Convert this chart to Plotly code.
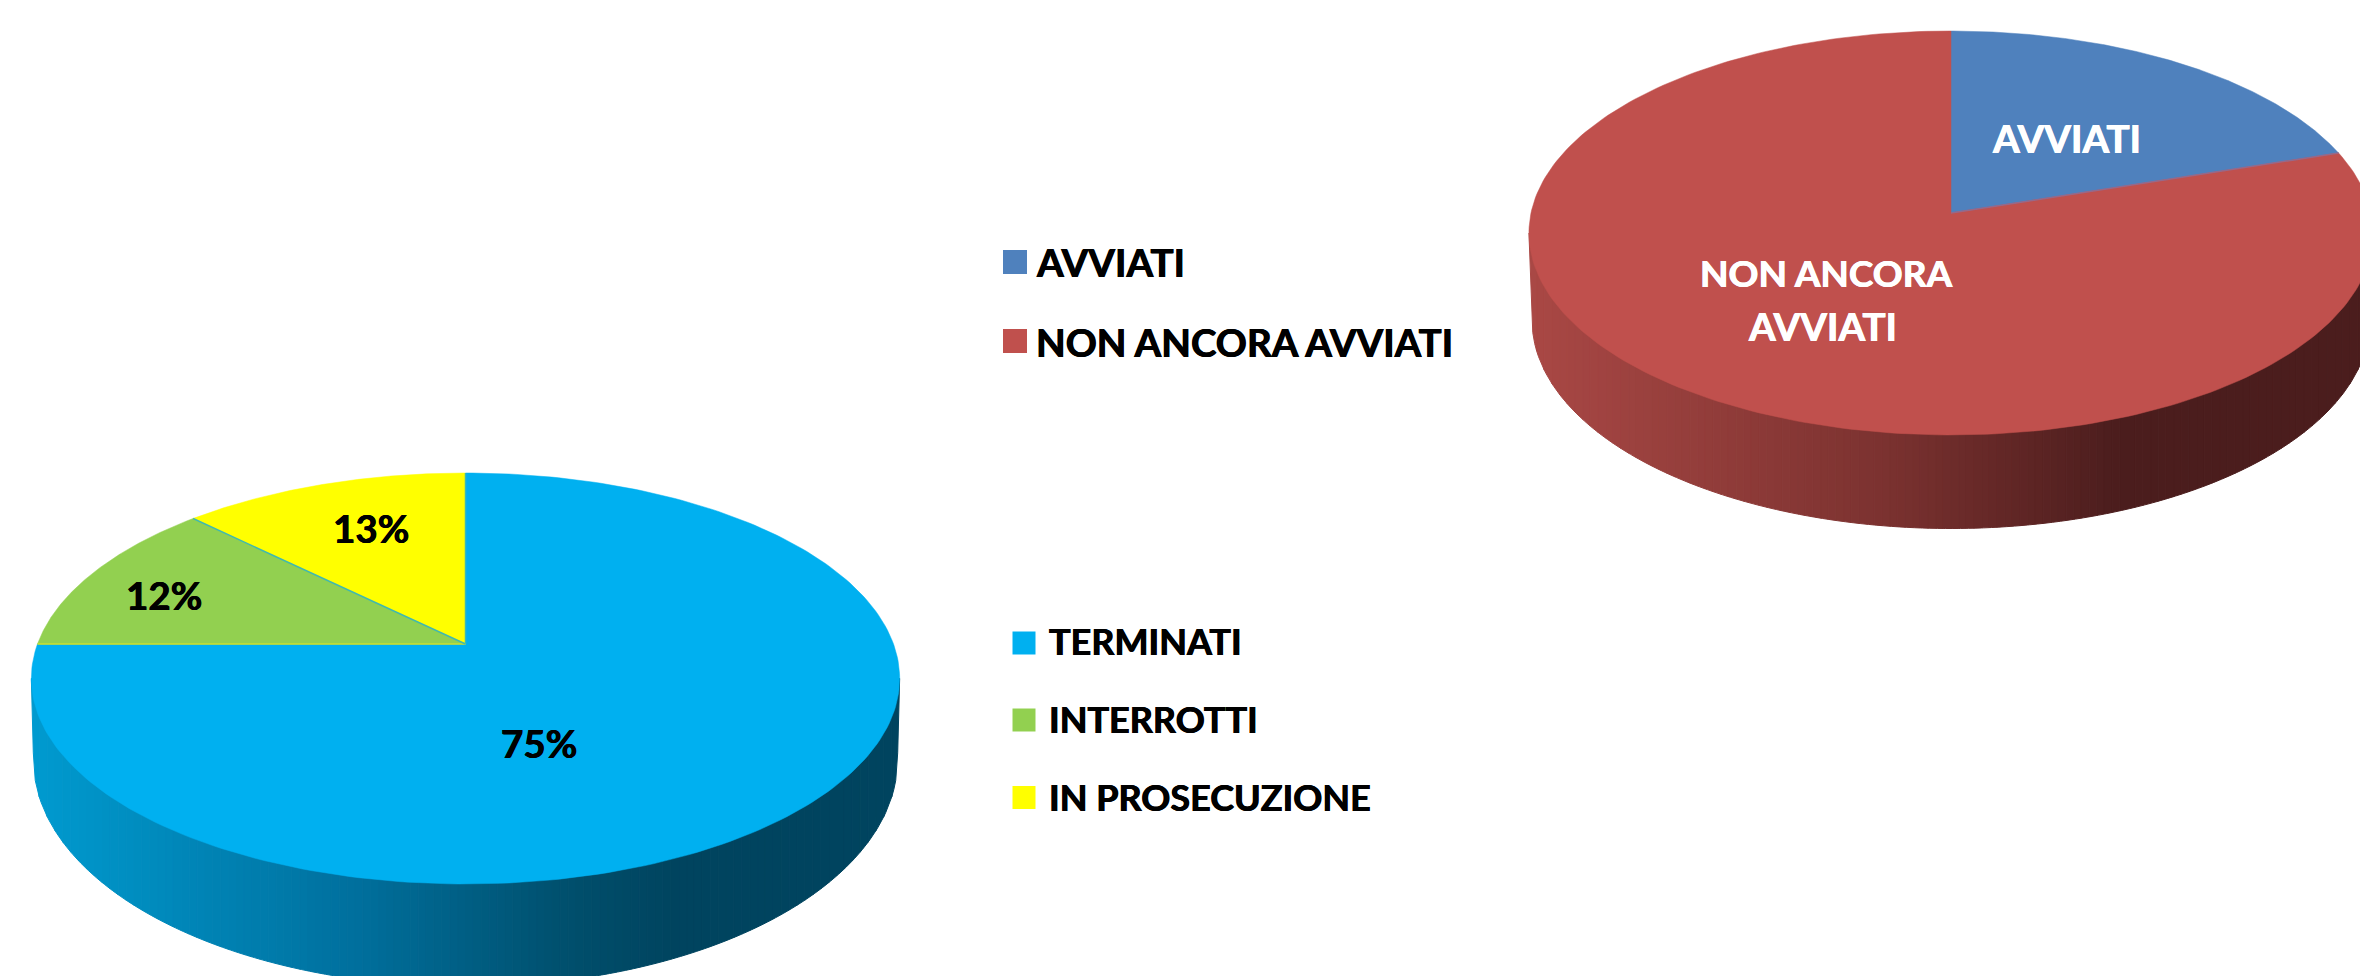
import numpy as np
import plotly.graph_objects as go

# --- data ---
status_labels = ["TERMINATI", "INTERROTTI", "IN PROSECUZIONE"]
status_values = [75, 12.4, 12.6]
status_colors = ["#00B0F0", "#92D050", "#FFFF00"]
status_text = ["75%", "12%", "13%"]

start_labels = ["AVVIATI", "NON ANCORA AVVIATI"]
start_values = [20, 80]
start_colors = ["#4F81BD", "#C0504D"]

W, H = 2360, 976
FONT = "Lato"
fig = go.Figure()


def project(phi, p):
    d = 1 - p["k"] * np.cos(phi)
    return (p["ax"] + p["A"] * np.sin(phi) / d,
            p["ay"] - p["B"] * np.cos(phi) / d)


def add_pie(values, colors, p, wall_stops, seam):
    # ellipse described by the projected rim
    ytop = project(0.0, p)[1]
    ybot = project(np.pi, p)[1]
    cy1 = (ytop + ybot) / 2
    rx1 = p["A"] / np.sqrt(1 - p["k"] ** 2)
    # side wall: thin vertical strips carrying the horizontal gradient
    cx, rx2, cy2, ry2 = p["ax"], p["rx2"], p["cy2"], p["ry2"]
    edges = np.linspace(cx - rx1, cx + rx1, p.get("strips", 110) + 1)
    pos = [s[0] for s in wall_stops]
    chans = [[s[1][i] for s in wall_stops] for i in range(3)]

    def lower(x):
        u = (x - cx) / rx2
        if abs(u) <= 1:
            return cy2 + ry2 * np.sqrt(1 - u * u)
        t = (abs(x - cx) - rx2) / (rx1 - rx2)
        return cy2 + (cy1 - cy2) * t

    for a, b in zip(edges[:-1], edges[1:]):
        xs = np.linspace(a, b, 5)
        ys = [lower(x) for x in xs]
        m = ((a + b) / 2 - edges[0]) / (edges[-1] - edges[0])
        c = [int(round(np.interp(m, pos, ch))) for ch in chans]
        col = f"rgb({c[0]},{c[1]},{c[2]})"
        fig.add_trace(go.Scatter(
            x=[a, *xs, b, a], y=[cy1, *ys, cy1, cy1], mode="lines",
            fill="toself", fillcolor=col, line=dict(color=col, width=1),
            hoverinfo="skip", showlegend=False))
    # top face: one sector per value
    angles = 2 * np.pi * np.cumsum([0, *values]) / sum(values)
    for i, col in enumerate(colors):
        phi = np.linspace(angles[i], angles[i + 1], 240)
        x, y = project(phi, p)
        fig.add_trace(go.Scatter(
            x=[p["ax"], *x, p["ax"]], y=[p["ay"], *y, p["ay"]], mode="lines",
            fill="toself", fillcolor=col, line=dict(color=col, width=0.5),
            hoverinfo="skip", showlegend=False))
    # soft seams between sectors
    for ang, scol in zip(angles[:-1], seam):
        if scol is None:
            continue
        x, y = project(ang, p)
        fig.add_trace(go.Scatter(
            x=[p["ax"], x], y=[p["ay"], y], mode="lines",
            line=dict(color=scol, width=1.5),
            hoverinfo="skip", showlegend=False))


pie_left = dict(ax=465.5, ay=644, A=428, B=199.7, k=-0.1679,
                rx2=432, cy2=760, ry2=226.5)
pie_right = dict(ax=1951, ay=213, A=420, B=200, k=-0.0989,
                 rx2=419, cy2=320, ry2=208.5)

add_pie(status_values, status_colors, pie_left,
        [(0.0, (0, 155, 208)), (0.37, (0, 112, 158)), (0.61, (0, 80, 110)),
         (0.74, (0, 68, 95)), (1.0, (0, 68, 95))],
        ["#3FB8B0", "#C8E030", "#3FB8B0"])
add_pie(start_values, start_colors, pie_right,
        [(0.0, (170, 72, 69)), (0.417, (124, 50, 48)), (0.70, (75, 29, 29)),
         (1.0, (75, 29, 29))],
        [None, "#96698A"])

# legend swatches
fig.add_trace(go.Scatter(
    x=[1015, 1015], y=[262, 341], mode="markers",
    marker=dict(symbol="square", size=24, color=start_colors, line=dict(width=0)),
    hoverinfo="skip", showlegend=False))
fig.add_trace(go.Scatter(
    x=[1024, 1024, 1024], y=[643, 720, 797.5], mode="markers",
    marker=dict(symbol="square", size=23, color=status_colors, line=dict(width=0)),
    hoverinfo="skip", showlegend=False))


def note(x, y, text, color="#000000", anchor="center", size=38.5):
    shadow = f"0.5px 0 0 {color}, -0.4px 0 0 {color}"
    fig.add_annotation(x=x, y=y, xref="x", yref="y", text=text, showarrow=False,
                       xanchor=anchor, yanchor="middle",
                       font=dict(family=FONT, size=size, color=color, weight=700,
                                 shadow=shadow))


for y, t in zip([262, 342], start_labels):
    note(1034, y, t, anchor="left", size=38.5)
for y, t in zip([641, 718.5, 796.5], status_labels):
    note(1047, y, t, anchor="left", size=36)

note(2066, 137.5, start_labels[0], "#FFFFFF")
note(1825.5, 272.5, "NON ANCORA", "#FFFFFF", size=37)
note(1822, 325.5, "AVVIATI", "#FFFFFF")

for (x, y), t in zip([(538.5, 742.5), (164, 594.5), (370.5, 527.5)], status_text):
    note(x, y, t)

fig.update_layout(
    width=W, height=H, margin=dict(l=0, r=0, t=0, b=0),
    paper_bgcolor="white", plot_bgcolor="white", showlegend=False,
    xaxis=dict(range=[0, W], visible=False, fixedrange=True),
    yaxis=dict(range=[H, 0], visible=False, fixedrange=True),
)
fig.write_html("out.html", config=dict(displayModeBar=False),
               post_script="document.body.style.margin='0';document.body.style.overflow='hidden';")
